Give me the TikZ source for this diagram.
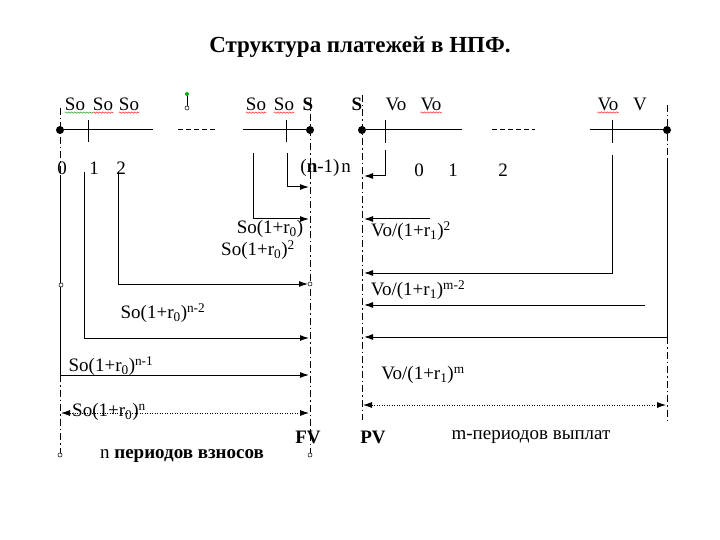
\documentclass[tikz,border=0pt]{standalone}
\usepackage{fontspec}
\setmainfont{Liberation Serif}
\usetikzlibrary{arrows.meta,decorations.pathmorphing}
\begin{document}
\begin{tikzpicture}[x=1pt,y=-1pt,
 lbl/.style={inner sep=0pt, font=\fontsize{19}{21}\selectfont},
 blbl/.style={inner sep=0pt, font=\bfseries\fontsize{19}{21}\selectfont},
 ttl/.style={inner sep=0pt, font=\bfseries\fontsize{23}{25}\selectfont},
 ln/.style={line width=1pt},
 ddash/.style={line width=0.8pt, dash pattern=on 7pt off 3pt on 1.5pt off 3pt},
 gapdash/.style={line width=1pt, dash pattern=on 5pt off 3pt},
 arr/.style={ln,-{Latex[length=9pt,width=6pt]}},
 darr/.style={line width=0.8pt, dash pattern=on 1pt off 1.5pt, {Latex[length=9pt,width=6pt]}-{Latex[length=9pt,width=6pt]}},
 bigdot/.style={circle, fill, inner sep=0pt, minimum size=8pt},
 ocirc/.style={circle, draw, inner sep=0pt, minimum size=4pt, line width=0.5pt, fill=white},
 wavy/.style={decorate, decoration={snake, amplitude=0.7pt, segment length=3pt}, line width=0.4pt}
]
\useasboundingbox[fill=white] (0,0) rectangle (720,540);

\node[ttl] (title) at (360,47) {Структура платежей в НПФ.};

% ---------- left timeline ----------
\node[bigdot] (L0) at (60,130) {};
\node[bigdot] (Ln) at (310,130) {};
\coordinate (La) at (153,130); \coordinate (Lb) at (243,130);
\coordinate (Lc) at (178,130); \coordinate (Ld) at (215,130);
\draw[ln] (L0) -- (La);
\draw[ln] (Lb) -- (Ln);
\draw[gapdash] (Lc) -- (Ld);
\coordinate (t1a) at (88,120); \coordinate (t1b) at (88,142);
\coordinate (t2a) at (286,120); \coordinate (t2b) at (286,142);
\draw[ln] (t1a) -- (t1b);
\draw[ln] (t2a) -- (t2b);

% left boundary x=60
\coordinate (L60top) at (60,108); \coordinate (L60a) at (60,175);
\coordinate (L60b) at (60,375); \coordinate (L60bot) at (60,455);
\draw[ddash] (L60top) -- (L60a);
\draw[ln] (L60a) -- (L60b);
\draw[ddash] (L60b) -- (L60bot);
\node[ocirc] (c60m) at (61,285) {};
\node[ocirc] (c60b) at (60,455) {};

% right boundary x=310
\coordinate (R310top) at (310,100); \coordinate (R310bot) at (310,455);
\draw[ddash] (R310top) -- (R310bot);
\node[ocirc] (c310b) at (310,455) {};

% arrows to x=310
\coordinate (v1a) at (84,172); \coordinate (v1b) at (84,338); \coordinate (v1e) at (309,338);
\draw[arr] (v1a) -- (v1b) -- (v1e);
\coordinate (v2a) at (118,172); \coordinate (v2b) at (118,284); \coordinate (v2e) at (308,284);
\draw[arr] (v2a) -- (v2b) -- (v2e);
\node[ocirc] (c310m) at (310,284) {};
\coordinate (v3a) at (253,153); \coordinate (v3b) at (253,219); \coordinate (v3e) at (309,219);
\draw[arr] (v3a) -- (v3b) -- (v3e);
\coordinate (v4a) at (287,153); \coordinate (v4b) at (287,187); \coordinate (v4e) at (309,187);
\draw[arr] (v4a) -- (v4b) -- (v4e);
\coordinate (v0e) at (309,375);
\draw[arr] (L60b) -- (v0e);
\coordinate (dL) at (61,413); \coordinate (dR) at (309,413);
\draw[darr] (dL) -- (dR);

% top labels left
\node[lbl] (so1) at (75,104) {So};
\node[lbl] (so2) at (103,104) {So};
\node[lbl] (so3) at (129,104) {So};
\node[lbl] (so4) at (256,104) {So};
\node[lbl] (so5) at (284,104) {So};
\node[blbl] (s1) at (308,104) {S};
\draw[wavy, draw=green!60!black] ([yshift=-2pt]so1.south west) -- ([yshift=-2pt]so2.south west);
\draw[wavy, draw=red] ([yshift=-2pt]so2.south west) -- ([yshift=-2pt]so2.south east);
\draw[wavy, draw=red] ([yshift=-2pt]so3.south west) -- ([yshift=-2pt]so3.south east);
\draw[wavy, draw=red] ([yshift=-2pt]so4.south west) -- ([yshift=-2pt]so4.south east);
\draw[wavy, draw=red] ([yshift=-2pt]so5.south west) -- ([yshift=-2pt]so5.south east);

% selection handle artifact
\coordinate (h1) at (187,94); \coordinate (h2) at (187,108);
\draw[line width=0.8pt] (h1) -- (h2);
\node[circle, fill=green!70!black, inner sep=0pt, minimum size=4pt] (hg) at (h1) {};
\node[ocirc] (ho) at (h2) {};

% numbers left
\node[lbl] (n0) at (62,168) {0};
\node[lbl] (n1) at (94,168) {1};
\node[lbl] (n2) at (121,168) {2};
\node[lbl] (nn1) at (320,168) {(\textbf{n}-1)};
\node[lbl] (nn) at (346,168) {n};

% formula labels left
\node[lbl] (f1) at (270,229) {So(1+r\textsubscript{0})};
\node[lbl] (f2) at (258,250) {So(1+r\textsubscript{0})\textsuperscript{2}};
\node[lbl] (f3) at (163,313) {So(1+r\textsubscript{0})\textsuperscript{n-2}};
\node[lbl] (f4) at (111,366) {So(1+r\textsubscript{0})\textsuperscript{n-1}};
\node[lbl] (f5) at (109,412) {So(1+r\textsubscript{0})\textsuperscript{n}};
\node[blbl] (FV) at (308,437) {FV};
\node[lbl] (np) at (182,456) {n \textbf{периодов взносов}};

% ---------- right timeline ----------
\node[bigdot] (R0) at (362,130) {};
\node[bigdot] (Rm) at (667,130) {};
\coordinate (Ra) at (462,130); \coordinate (Rb) at (590,130);
\coordinate (Rc) at (492,130); \coordinate (Rd) at (535,130);
\draw[ln] (R0) -- (Ra);
\draw[ln] (Rb) -- (Rm);
\draw[gapdash] (Rc) -- (Rd);
\coordinate (u1a) at (385,120); \coordinate (u1b) at (385,143);
\coordinate (u2a) at (612,120); \coordinate (u2b) at (612,143);
\draw[ln] (u1a) -- (u1b);
\draw[ln] (u2a) -- (u2b);

\coordinate (R362top) at (362,95); \coordinate (R362bot) at (362,420);
\draw[ddash] (R362top) -- (R362bot);
\coordinate (R667top) at (667,105); \coordinate (R667a) at (667,160);
\coordinate (R667b) at (667,337); \coordinate (R667bot) at (667,420);
\draw[ddash] (R667top) -- (R667a);
\draw[ln] (R667a) -- (R667b);
\draw[ddash] (R667b) -- (R667bot);

\coordinate (w1a) at (385,150); \coordinate (w1b) at (385,176); \coordinate (w1e) at (364,176);
\draw[arr] (w1a) -- (w1b) -- (w1e);
\coordinate (w2a) at (430,219); \coordinate (w2e) at (364,219);
\draw[arr] (w2a) -- (w2e);
\coordinate (w3a) at (612,155); \coordinate (w3b) at (612,273); \coordinate (w3e) at (364,273);
\draw[arr] (w3a) -- (w3b) -- (w3e);
\coordinate (w4a) at (645,305); \coordinate (w4e) at (364,305);
\draw[arr] (w4a) -- (w4e);
\coordinate (w5e) at (364,337);
\draw[arr] (R667b) -- (w5e);
\coordinate (eL) at (363,405); \coordinate (eR) at (666,405);
\draw[darr] (eL) -- (eR);

% top labels right
\node[blbl] (s2) at (357,104) {S};
\node[lbl] (vo1) at (396,104) {Vo};
\node[lbl] (vo2) at (431,104) {Vo};
\node[lbl] (vo3) at (608,104) {Vo};
\node[lbl] (vv) at (640,104) {V};
\draw[wavy, draw=red] ([yshift=-2pt]vo2.south west) -- ([yshift=-2pt]vo2.south east);
\draw[wavy, draw=red] ([yshift=-2pt]vo3.south west) -- ([yshift=-2pt]vo3.south east);

\node[lbl] (m0) at (419,170) {0};
\node[lbl] (m1) at (453,170) {1};
\node[lbl] (m2) at (503,170) {2};

\node[lbl] (g1) at (411,231) {Vo/(1+r\textsubscript{1})\textsuperscript{2}};
\node[lbl] (g2) at (418,290) {Vo/(1+r\textsubscript{1})\textsuperscript{m-2}};
\node[lbl] (g3) at (423,375) {Vo/(1+r\textsubscript{1})\textsuperscript{m}};
\node[blbl] (PV) at (373,437) {PV};
\node[lbl] (mp) at (531,437) {m-периодов выплат};
\end{tikzpicture}
\end{document}
